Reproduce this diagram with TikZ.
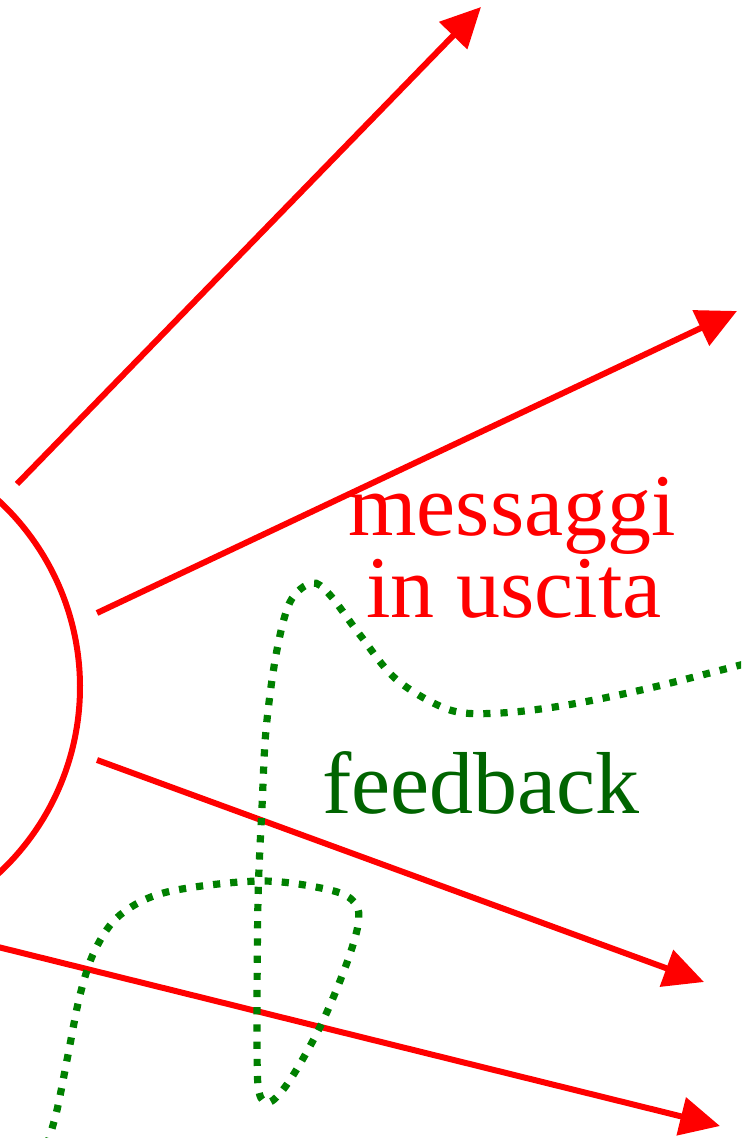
\documentclass[tikz,border=0pt]{standalone}
\usepackage{fontspec}
\setmainfont{Liberation Serif}
\usetikzlibrary{arrows.meta}
\definecolor{outred}{RGB}{255,0,0}
\definecolor{fbdots}{RGB}{0,128,0}
\definecolor{fbtext}{RGB}{0,100,0}
\tikzset{
  outmsg/.style={draw=outred, line width=3pt,
    -{Triangle[length=20pt,width=19pt]}},
  fbpath/.style={draw=fbdots, line width=3.6pt,
    dash pattern=on 3.6pt off 5pt},
  bigtext/.style={font=\fontsize{44}{41}\selectfont, inner sep=0pt}
}
\begin{document}
\begin{tikzpicture}[x=0.5pt,y=-0.5pt]
  \useasboundingbox (0,0) rectangle (741,1138);
  \clip (0,0) rectangle (741,1138);

  % sender: arc of a circle partly outside the frame
  \draw[outred, line width=3pt] (-174,687) ++(-50:254) arc[start angle=-50, end angle=50, radius=254];

  % outgoing messages
  \coordinate (s1) at (17,484);   \coordinate (t1) at (481,7);
  \coordinate (s2) at (97,613);   \coordinate (t2) at (737,311);
  \coordinate (s3) at (97,760);   \coordinate (t3) at (704,982);
  \coordinate (s4) at (-10,945);  \coordinate (t4) at (720,1126);
  \draw[outmsg] (s1) -- (t1);
  \draw[outmsg] (s2) -- (t2);
  \draw[outmsg] (s3) -- (t3);
  \draw[outmsg] (s4) -- (t4);

  % returning feedback, a wandering dotted trail
  \draw[fbpath] plot[smooth, tension=0.55] coordinates {
    (47,1145) (57,1110) (68,1055) (80,995) (95,950) (120,915) (167,892)
    (260,881) (330,890) (355,903) (358,925) (345,968) (320,1027) (290,1080)
    (270,1102) (259,1092) (257,1040) (258,900) (262,807) (266,730) (276,655)
    (290,602) (312,583) (330,595) (360,635) (397,680) (450,710) (500,713)
    (567,705) (650,688) (748,663)};

  % labels
  \node[bigtext, text=outred, anchor=base] (msg1) at (512,535) {messaggi};
  \node[bigtext, text=outred, anchor=base] (msg2) at (514,617) {in uscita};
  \node[bigtext, text=fbtext, anchor=base] (fb) at (481,813) {feedback};
\end{tikzpicture}
\end{document}
